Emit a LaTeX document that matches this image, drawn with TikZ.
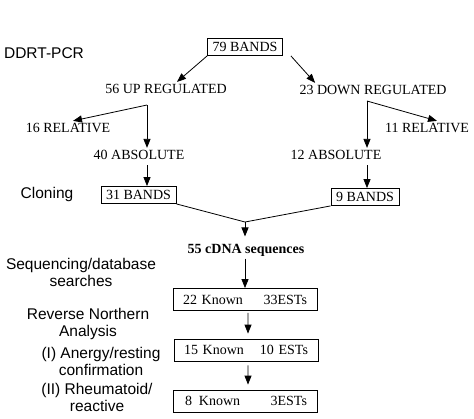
\documentclass[tikz,border=0pt]{standalone}
\usepackage{fontspec}
\setmainfont{Liberation Serif}
\setsansfont{Liberation Sans}
\usepackage{tikz}
\usetikzlibrary{arrows.meta}

\begin{document}
\begin{tikzpicture}[x=1bp, y=-1bp, line width=0.8bp,
  lbl/.style={font=\fontsize{14bp}{16bp}\selectfont, inner sep=2bp},
  bandbox/.style={lbl, draw, inner xsep=5bp, minimum height=17bp},
  hitbox/.style={lbl, draw, text width=124bp, inner xsep=10bp, minimum height=22bp},
  side/.style={font=\sffamily\fontsize{15.5bp}{17bp}\selectfont, align=center, inner sep=0pt},
  arr/.style={-{Triangle[length=9bp,width=7bp]}}]
\useasboundingbox (0,0) rectangle (474,418);

% Step names on the left
\node[side] (ddrt) at (44,53) {DDRT-PCR};
\node[side] (cloning) at (47,194) {Cloning};
\node[side] (seqdb) at (81,272) {Sequencing/database\\searches};
\node[side] (revnorth) at (88,324) {Reverse Northern\\Analysis};
\node[side] (anergy) at (101,361) {(I) Anergy/resting\\confirmation};
\node[side] (rheum) at (97,397) {(II) Rheumatoid/\\reactive};

% Band counts
\node[bandbox] (bands79) at (245,47) {79 BANDS};
\node[lbl] (up) at (166,89) {56 UP REGULATED};
\node[lbl] (down) at (373,90) {23 DOWN REGULATED};
\node[lbl] (rel16) at (68,128) {16 RELATIVE};
\node[lbl] (rel11) at (427,128) {11 RELATIVE};
\node[lbl] (abs40) at (139,155) {40 ABSOLUTE};
\node[lbl] (abs12) at (336,155) {12 ABSOLUTE};
\node[bandbox] (bands31) at (138.5,195) {31 BANDS};
\node[bandbox] (bands9) at (365,197) {9 BANDS};
\node[lbl, font=\bfseries\fontsize{14bp}{16bp}\selectfont] (cdna) at (246,250) {55 cDNA sequences};
\node[hitbox] (hits22) at (245,299.5) {22 Known\hfill 33ESTs};
\node[hitbox] (hits15) at (246,350) {15 Known\hfill 10 ESTs};
\node[hitbox] (hits8) at (245,401) {\hspace{2bp}8\hspace{7bp}Known\hfill 3ESTs};

% Split into up and down regulated
\draw[arr] (bands79.south west) -- ([xshift=11bp]up.north);
\draw[arr] ([xshift=8bp]bands79.south east) -- ([xshift=18bp]down.north west);

% Up regulated: relative and absolute
\coordinate (upfork) at (147,105);
\draw[arr] (upfork) -- ([xshift=5bp]rel16.north);
\draw[arr] (upfork) -- (upfork |- abs40.north);

% Down regulated: relative and absolute
\coordinate (downfork) at (367,101);
\draw[arr] (downfork) -- ([xshift=10bp]rel11.north);
\draw[arr] (downfork) -- (downfork |- abs12.north);

% Absolute bands to cloning
\draw[arr, shorten <=3bp] (upfork |- abs40.south) -- (upfork |- bands31.north);
\draw[arr, shorten <=3bp] (downfork |- abs12.south) -- (downfork |- bands9.north);

% Clones merge into the sequences
\coordinate (merge) at (245,222);
\draw (bands31.south east) -- (merge) -- (bands9.south west);
\draw[arr] (merge) -- ([yshift=5bp]cdna.north -| merge);
\draw[arr] (merge |- cdna.south) -- (merge |- hits22.north);

% Reverse northern steps
\draw[arr, shorten <=2bp, shorten >=5bp] ([xshift=3bp]hits22.south) -- ([xshift=2bp]hits15.north);
\draw[arr, shorten <=4bp, shorten >=5bp] ([xshift=2bp]hits15.south) -- ([xshift=3bp]hits8.north);
\end{tikzpicture}
\end{document}
